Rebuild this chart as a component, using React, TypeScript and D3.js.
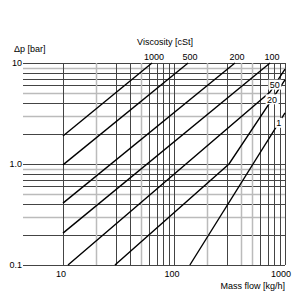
import React, { useEffect, useRef } from 'react';
import * as d3 from 'd3';

// flow [kg/h], pressure drop [bar]
const flowTicks = [10, 100, 1000];
const dpTicks = [0.1, 1, 10];
const dpTickLabels = ['0.1', '1.0', '10'];

const viscosityNames = ['1000', '500', '200', '100', '50', '20', '1'];
const visc1000: [number, number][] = [[10, 1.89], [63.4, 10]];
const visc500: [number, number][] = [[10, 0.98], [134, 10]];
const visc200: [number, number][] = [[10, 0.41], [354, 10]];
const visc100: [number, number][] = [[10, 0.207], [733, 10]];
const visc50: [number, number][] = [[11.1, 0.1], [733, 5.16], [1000, 8.7]];
const visc20: [number, number][] = [[29.4, 0.1], [313, 1.0], [1000, 6.8]];
const visc1: [number, number][] = [[139, 0.1], [1000, 3.2]];
const series = [visc1000, visc500, visc200, visc100, visc50, visc20, visc1];

// labels that sit on the line near the right edge
const inlineNames = ['50', '20', '1'];
const inlineFlows = [810, 765, 880];

const grayFlows = [20, 50, 200, 400, 500];
const grayDps = [0.3, 0.5, 0.9, 3, 5, 9];

const App = () => {
  const svgRef = useRef<SVGSVGElement>(null);

  useEffect(() => {
    const svg = d3.select(svgRef.current);
    svg.selectAll('*').remove();

    const left = 25, right = 285, top = 63, bottom = 265;
    const font = 'Liberation Sans, Arial, sans-serif';
    const fs = '9px';

    const x = d3.scaleLog().domain([4.55, 1000]).range([left, right]);
    const y = d3.scaleLog().domain([0.1, 10]).range([bottom, top]);

    const flowGrid: number[] = [];
    [10, 100].forEach(d => { for (let i = 1; i <= 9; i++) flowGrid.push(d * i); });
    flowGrid.push(1000);
    const dpGrid: number[] = [];
    [0.1, 1].forEach(d => { for (let i = 1; i <= 9; i++) dpGrid.push(+(d * i).toFixed(2)); });
    dpGrid.push(10);

    const isGray = (arr: number[], v: number) => arr.some(a => Math.abs(a - v) < 1e-6);

    // gray lines first, dark on top
    const hSorted = dpGrid.slice().sort((a, b) => (isGray(grayDps, b) ? 1 : 0) - (isGray(grayDps, a) ? 1 : 0));
    svg.append('g').selectAll('line')
      .data(hSorted)
      .join('line')
      .attr('x1', left - 2).attr('x2', right)
      .attr('y1', d => Math.round(y(d)) + 0.5).attr('y2', d => Math.round(y(d)) + 0.5)
      .attr('stroke', d => isGray(grayDps, d) ? '#bbbbbb' : '#444')
      .attr('stroke-width', d => isGray(grayDps, d) ? 1.5 : 1);

    const vSorted = flowGrid.slice().sort((a, b) => (isGray(grayFlows, b) ? 1 : 0) - (isGray(grayFlows, a) ? 1 : 0));
    svg.append('g').selectAll('line')
      .data(vSorted)
      .join('line')
      .attr('x1', d => Math.round(x(d)) + 0.5).attr('x2', d => Math.round(x(d)) + 0.5)
      .attr('y1', top).attr('y2', bottom)
      .attr('stroke', d => isGray(grayFlows, d) ? '#bbbbbb' : '#444')
      .attr('stroke-width', d => isGray(grayFlows, d) ? 1.5 : 1);

    const line = d3.line<[number, number]>().x(d => x(d[0])).y(d => y(d[1]));

    svg.append('g').selectAll('path')
      .data(series)
      .join('path')
      .attr('d', d => line(d))
      .attr('fill', 'none')
      .attr('stroke', '#000')
      .attr('stroke-width', 1.4);

    // viscosity labels above the plot
    svg.append('g').selectAll('text')
      .data(series.slice(0, 4))
      .join('text')
      .attr('x', d => x(d[d.length - 1][0]) + 2)
      .attr('y', top - 3)
      .attr('text-anchor', 'middle')
      .style('font-family', font).style('font-size', fs)
      .text((d, i) => viscosityNames[i]);

    // inline labels with white boxes
    const onLine = (pts: [number, number][], f: number) => {
      for (let i = 0; i < pts.length - 1; i++) {
        const [f0, p0] = pts[i], [f1, p1] = pts[i + 1];
        if (f >= f0 && f <= f1) {
          const t = (Math.log(f) - Math.log(f0)) / (Math.log(f1) - Math.log(f0));
          return Math.exp(Math.log(p0) + t * (Math.log(p1) - Math.log(p0)));
        }
      }
      return pts[pts.length - 1][1];
    };
    inlineNames.forEach((name, i) => {
      const s = series[viscosityNames.indexOf(name)];
      const cx = x(inlineFlows[i]);
      const cy = y(onLine(s, inlineFlows[i]));
      const w = name.length * 5.5 + 2;
      svg.append('rect')
        .attr('x', cx - w / 2).attr('y', cy - 5).attr('width', w).attr('height', 10)
        .attr('fill', '#fff');
      svg.append('text')
        .attr('x', cx).attr('y', cy + 3.2)
        .attr('text-anchor', 'middle')
        .style('font-family', font).style('font-size', fs)
        .text(name);
    });

    // axis labels
    svg.append('g').selectAll('text')
      .data(dpTicks)
      .join('text')
      .attr('x', left - 3)
      .attr('y', d => y(d) + 3.2)
      .attr('text-anchor', 'end')
      .style('font-family', font).style('font-size', fs)
      .text((d, i) => dpTickLabels[i]);

    svg.append('g').selectAll('text')
      .data(flowTicks)
      .join('text')
      .attr('x', d => x(d) - (d === 1000 ? 4 : 2))
      .attr('y', bottom + 12)
      .attr('text-anchor', 'middle')
      .style('font-family', font).style('font-size', fs)
      .text(d => String(d));

    svg.append('text')
      .attr('x', 14).attr('y', 52)
      .style('font-family', font).style('font-size', fs)
      .text('Δp [bar]');

    svg.append('text')
      .attr('x', 165).attr('y', 45)
      .attr('text-anchor', 'middle')
      .style('font-family', font).style('font-size', fs)
      .text('Viscosity [cSt]');

    svg.append('text')
      .attr('x', right).attr('y', 289)
      .attr('text-anchor', 'end')
      .style('font-family', font).style('font-size', fs)
      .text('Mass flow [kg/h]');
  }, []);

  return (
    <svg ref={svgRef} width={300} height={300}
      style={{ position: 'absolute', left: 0, top: 0, background: '#fff' }} />
  );
};

export default App;
